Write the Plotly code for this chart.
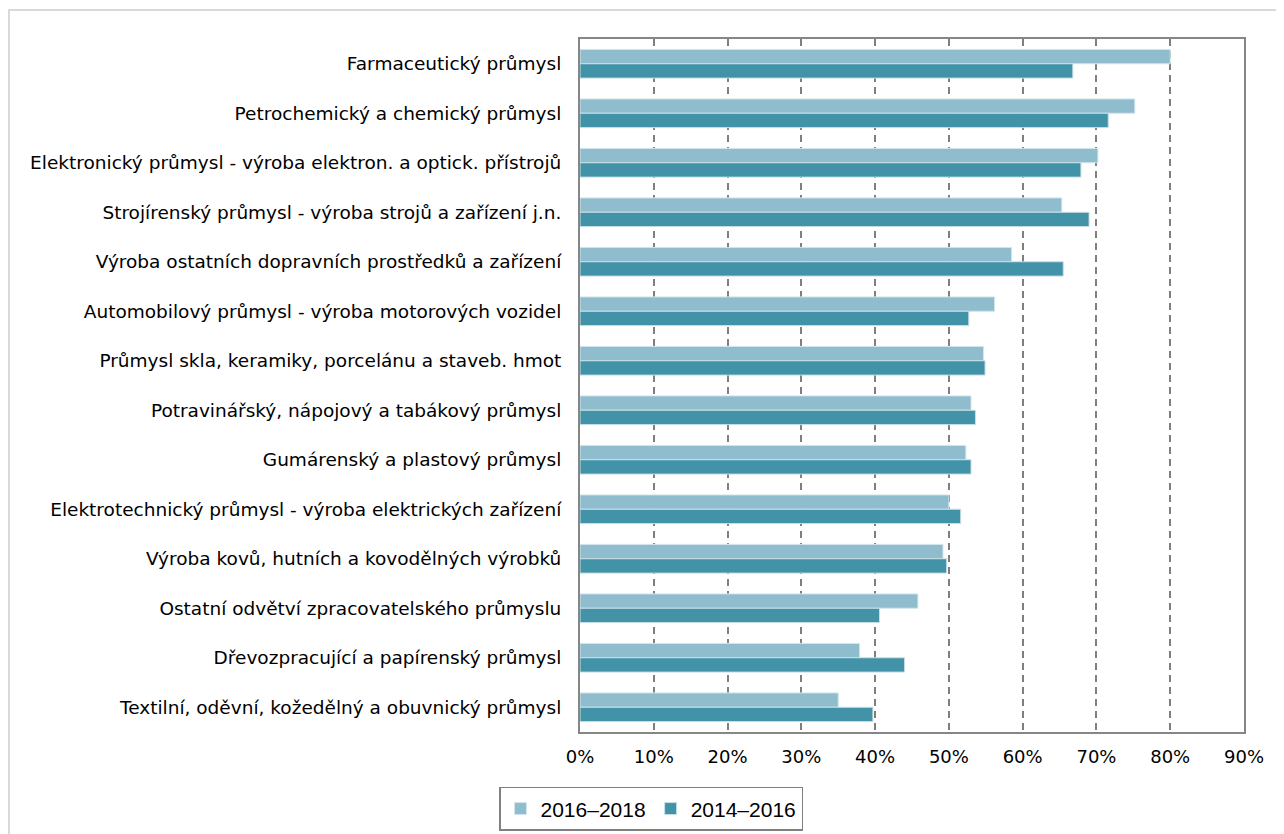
import plotly.graph_objects as go

# odvětví (shora dolů)
odvetvi = [
    "Farmaceutický průmysl",
    "Petrochemický a chemický průmysl",
    "Elektronický průmysl - výroba elektron. a optick. přístrojů",
    "Strojírenský průmysl - výroba strojů a zařízení j.n.",
    "Výroba ostatních dopravních prostředků a zařízení",
    "Automobilový průmysl - výroba motorových vozidel",
    "Průmysl skla, keramiky, porcelánu a staveb. hmot",
    "Potravinářský, nápojový a tabákový průmysl",
    "Gumárenský a plastový průmysl",
    "Elektrotechnický průmysl - výroba elektrických zařízení",
    "Výroba kovů, hutních a kovodělných výrobků",
    "Ostatní odvětví zpracovatelského průmyslu",
    "Dřevozpracující a papírenský průmysl",
    "Textilní, oděvní, kožedělný a obuvnický průmysl",
]

obdobi_2016_2018 = [80.0, 75.2, 70.2, 65.3, 58.5, 56.2, 54.7, 53.0, 52.3, 50.0, 49.2, 45.8, 37.9, 35.0]
obdobi_2014_2016 = [66.8, 71.6, 67.9, 69.0, 65.5, 52.7, 54.9, 53.6, 53.0, 51.6, 49.7, 40.6, 44.0, 39.7]

x_ticks = [0, 10, 20, 30, 40, 50, 60, 70, 80, 90]
x_labels = [f"{t}%" for t in x_ticks]

cat_font = dict(family="DejaVu Sans, sans-serif", size=18.5, color="#000000")
tick_font = dict(family="DejaVu Sans, sans-serif", size=18, color="#000000")
leg_font = dict(family="Liberation Sans, Arial, sans-serif", size=21, color="#000000")

fig = go.Figure()
fig.add_bar(
    y=odvetvi, x=obdobi_2016_2018, name="2016–2018", orientation="h",
    marker=dict(color="#8fbdcd", line=dict(color="#d4e6ec", width=1)),
)
fig.add_bar(
    y=odvetvi, x=obdobi_2014_2016, name="2014–2016", orientation="h",
    marker=dict(color="#4292a8", line=dict(color="#c9e0e7", width=1)),
)

fig.update_layout(
    width=1276, height=826,
    margin=dict(l=572, r=40, t=31, b=102, autoexpand=False),
    paper_bgcolor="white", plot_bgcolor="white",
    font=cat_font,
    barmode="group", bargap=0.42, bargroupgap=0,
    showlegend=True,
    legend=dict(
        orientation="h", xref="container", yref="container",
        x=643 / 1276, xanchor="center", y=0.057, yanchor="top",
        bordercolor="#808080", borderwidth=1.5, font=leg_font,
        itemwidth=30, traceorder="normal",
    ),
    shapes=[dict(
        type="rect", xref="paper", yref="paper",
        x0=-0.86, x1=1.2, y0=-0.3, y1=1.0418,
        line=dict(color="#d9d9d9", width=2), fillcolor="rgba(0,0,0,0)", layer="below",
    )],
)

fig.update_xaxes(
    range=[0, 90], tickvals=x_ticks, ticktext=x_labels,
    showgrid=True, gridcolor="#7f7f7f", gridwidth=2, griddash="7px,5px",
    showline=True, linecolor="#868686", linewidth=2, mirror=True,
    zeroline=False, ticks="", ticklabelstandoff=7, tickfont=tick_font,
)
fig.update_yaxes(
    autorange="reversed", showgrid=False,
    showline=True, linecolor="#868686", linewidth=2, mirror=True,
    ticks="", ticklabelstandoff=13, tickfont=cat_font,
)

fig.write_html("out.html")
